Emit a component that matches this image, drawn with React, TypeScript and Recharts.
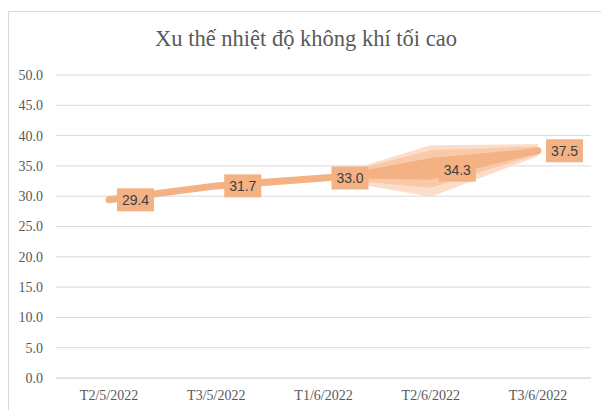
// Max air temperature trend chart with forecast cone
import { ComposedChart, Line, Area, XAxis, YAxis, CartesianGrid, LabelList } from 'recharts';

const categories = ['T2/5/2022', 'T3/5/2022', 'T1/6/2022', 'T2/6/2022', 'T3/6/2022'];
const maxTemp = [29.4, 31.7, 33.0, 34.3, 37.5];
// forecast uncertainty bands (low / high), null where there is no band
const outerLow = [null, null, 33.0, 29.9, 36.6];
const outerHigh = [null, null, 33.0, 38.4, 38.6];
const midLow = [null, null, 33.0, 31.4, 36.9];
const midHigh = [null, null, 33.0, 37.6, 38.2];
const innerLow = [null, null, 33.0, 32.7, 37.1];
const innerHigh = [null, null, 33.0, 36.3, 37.9];
const yTicks = [0, 5, 10, 15, 20, 25, 30, 35, 40, 45, 50];

const band = (lo: (number | null)[], hi: (number | null)[], i: number) =>
  lo[i] == null || hi[i] == null ? undefined : [lo[i], hi[i]];

const data = categories.map((name, i) => ({
  name,
  value: maxTemp[i],
  outer: band(outerLow, outerHigh, i),
  mid: band(midLow, midHigh, i),
  inner: band(innerLow, innerHigh, i),
}));

const LINE_COLOR = '#F4B183';

function BoxLabel(props: any) {
  const { x, y, value } = props;
  if (x == null || y == null) return null;
  const w = 37;
  const h = 23;
  return (
    <g>
      <rect x={x + 8} y={y - h / 2} width={w} height={h} fill={LINE_COLOR} />
      <text
        x={x + 8 + w / 2}
        y={y + 5}
        textAnchor="middle"
        fontFamily="'Liberation Sans', Arial, sans-serif"
        fontSize={14}
        fill="#404040"
      >
        {Number(value).toFixed(1)}
      </text>
    </g>
  );
}

export default function App() {
  const tickStyle = { fontFamily: "'Liberation Serif', 'Times New Roman', serif", fontSize: 14, fill: '#595959' };
  return (
    <div style={{ position: 'fixed', left: 0, top: 0, width: 601, height: 410, overflow: 'hidden', background: '#fff' }}>
      <div
        style={{
          position: 'absolute',
          left: 8,
          top: 11,
          width: 600,
          height: 410,
          borderTop: '1px solid #D9D9D9',
          borderLeft: '1px solid #D9D9D9',
        }}
      />
      <div
        style={{
          position: 'absolute',
          left: 0,
          width: 612,
          top: 26,
          textAlign: 'center',
          fontFamily: "'Liberation Serif', 'Times New Roman', serif",
          fontSize: 22.5,
          color: '#595959',
        }}
      >
        Xu thế nhiệt độ không khí tối cao
      </div>
      <div style={{ position: 'absolute', left: 0, top: 0 }}>
        <ComposedChart width={601} height={410} data={data} margin={{ top: 75, right: 10, bottom: 0, left: 8 }}>
          <CartesianGrid vertical={false} stroke="#D9D9D9" />
          <XAxis
            dataKey="name"
            axisLine={{ stroke: '#D9D9D9' }}
            tickLine={false}
            tickSize={0}
            tickMargin={12}
            height={32}
            tick={tickStyle}
            interval={0}
            padding={{ left: 53, right: 53 }}
          />
          <YAxis
            domain={[0, 50]}
            ticks={yTicks}
            tickFormatter={(v: number) => v.toFixed(1)}
            axisLine={false}
            tickLine={false}
            tickSize={0}
            tickMargin={13}
            width={48}
            tick={tickStyle}
          />
          <Area dataKey="outer" type="linear" stroke="none" fill="#FBDDC9" fillOpacity={1} isAnimationActive={false} />
          <Area dataKey="mid" type="linear" stroke="none" fill="#F8CAAA" fillOpacity={1} isAnimationActive={false} />
          <Area dataKey="inner" type="linear" stroke="none" fill={LINE_COLOR} fillOpacity={1} isAnimationActive={false} />
          <Line
            dataKey="value"
            type="linear"
            stroke={LINE_COLOR}
            strokeWidth={7}
            strokeLinecap="round"
            dot={false}
            activeDot={false}
            isAnimationActive={false}
          >
            <LabelList dataKey="value" content={<BoxLabel />} />
          </Line>
        </ComposedChart>
      </div>
    </div>
  );
}
